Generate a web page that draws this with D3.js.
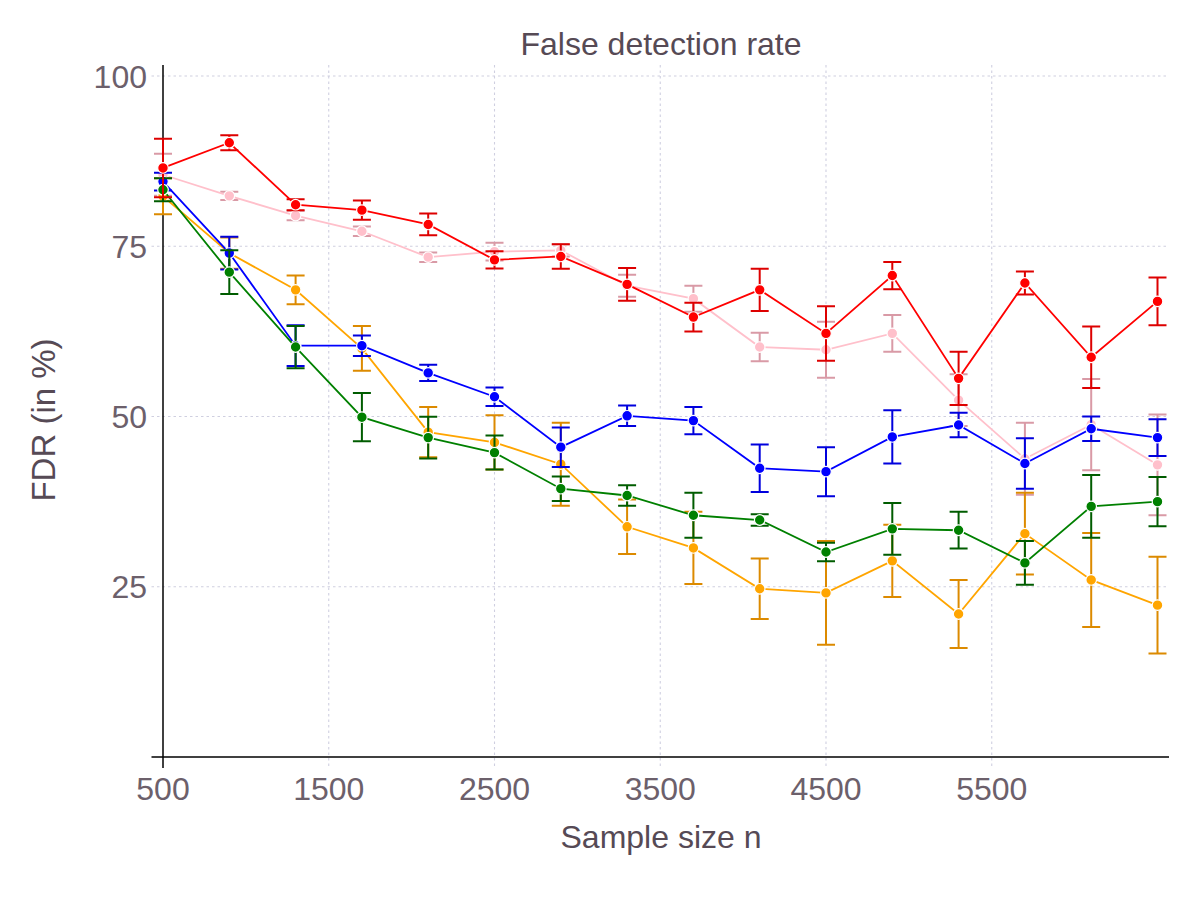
<!DOCTYPE html>
<html>
<head>
<meta charset="utf-8">
<script src="https://cdn.jsdelivr.net/npm/d3@7"></script>
<style>
  body { margin: 0; background: #fff; }
  text { font-family: "Liberation Sans", Arial, Helvetica, sans-serif; }
</style>
</head>
<body>
<div id="chart"></div>
<script>
// sample sizes on the x axis
const sampleSizes = [500, 900, 1300, 1700, 2100, 2500, 2900, 3300, 3700, 4100, 4500, 4900, 5300, 5700, 6100, 6500];

// FDR means and error half-widths (in %)
const redMean  = [86.5, 90.2, 81.1, 80.3, 78.2, 73.0, 73.5, 69.4, 64.6, 68.6, 62.2, 70.7, 55.6, 69.6, 58.7, 66.9];
const redErr   = [4.3, 1.1, 0.8, 1.4, 1.6, 1.25, 1.8, 2.4, 2.1, 3.1, 4.0, 2.0, 3.9, 1.7, 4.5, 3.5];
const pinkMean = [85.5, 82.4, 79.5, 77.2, 73.4, 74.2, 74.4, 69.2, 67.3, 60.2, 59.8, 62.2, 52.4, 43.8, 48.8, 42.9];
const pinkErr  = [3.1, 0.6, 0.7, 0.7, 0.7, 1.3, 0.9, 1.6, 1.9, 2.1, 4.1, 2.7, 3.8, 5.3, 6.7, 7.4];
const blueMean = [84.5, 74.0, 60.4, 60.4, 56.4, 52.9, 45.5, 50.1, 49.4, 42.4, 41.9, 47.0, 48.75, 43.1, 48.2, 46.9];
const blueErr  = [1.3, 2.4, 3.0, 1.5, 1.2, 1.35, 2.9, 1.5, 2.0, 3.5, 3.6, 3.9, 1.8, 3.7, 1.8, 2.7];
const greenMean = [83.3, 71.2, 60.2, 49.9, 46.9, 44.7, 39.4, 38.4, 35.5, 34.8, 30.1, 33.5, 33.3, 28.5, 36.8, 37.5];
const greenErr  = [1.7, 3.2, 3.1, 3.55, 3.05, 2.5, 1.8, 1.5, 3.3, 0.85, 1.35, 3.8, 2.7, 3.2, 4.6, 3.6];
const orangeMean = [82.35, 74.0, 68.6, 60.0, 47.7, 46.2, 43.0, 33.8, 30.7, 24.7, 24.1, 28.8, 21.0, 32.8, 26.0, 22.3];
const orangeErr  = [2.65, 2.3, 2.1, 3.3, 3.7, 4.0, 6.1, 4.0, 5.3, 4.45, 7.6, 5.3, 5.0, 6.0, 6.9, 7.1];

const xTicks = [500, 1500, 2500, 3500, 4500, 5500];
const yTicks = [25, 50, 75, 100];

// draw order: first is at the bottom
const SERIES = [
  {mean: pinkMean,   err: pinkErr,   color: "#ffc0cb", bar: "#d99aa6"},
  {mean: orangeMean, err: orangeErr, color: "#ffa500", bar: "#dc8a00"},
  {mean: blueMean,   err: blueErr,   color: "#0000ff", bar: "#0000dd"},
  {mean: greenMean,  err: greenErr,  color: "#008000", bar: "#005c00"},
  {mean: redMean,    err: redErr,    color: "#ff0000", bar: "#dd0000"}
];

const W = 1200, H = 900;
const X0 = 163, X1 = 1169, Y0 = 757, Y100 = 76;
const GRID_TOP = 65, GRID_BOTTOM = 768, GRID_LEFT = 151.5;

const svg = d3.select("#chart").append("svg").attr("width", W).attr("height", H);

const x = d3.scaleLinear().domain([500, 500 + (X1 - X0) / 0.16575]).range([X0, X1]);
const y = d3.scaleLinear().domain([0, 100]).range([Y0, Y100]);

// grid
const grid = svg.append("g").attr("stroke", "#cfcfe0").attr("stroke-width", 1.1).attr("stroke-dasharray", "2.5,3");
grid.selectAll("line.gx").data(xTicks.slice(1)).join("line")
  .attr("x1", d => x(d)).attr("x2", d => x(d)).attr("y1", GRID_TOP).attr("y2", GRID_BOTTOM);
grid.selectAll("line.gy").data(yTicks).join("line")
  .attr("x1", GRID_LEFT).attr("x2", X1).attr("y1", d => y(d)).attr("y2", d => y(d));

// axes lines
svg.append("line").attr("x1", X0).attr("x2", X0).attr("y1", GRID_TOP).attr("y2", GRID_BOTTOM)
  .attr("stroke", "#000").attr("stroke-width", 1.5);
svg.append("line").attr("x1", GRID_LEFT).attr("x2", X1).attr("y1", Y0).attr("y2", Y0)
  .attr("stroke", "#000").attr("stroke-width", 1.5);

// tick labels
svg.append("g").selectAll("text").data(xTicks).join("text")
  .attr("x", d => x(d)).attr("y", 800)
  .attr("text-anchor", "middle").attr("font-size", 32).attr("fill", "#6c606b")
  .text(d => d);
svg.append("g").selectAll("text").data(yTicks).join("text")
  .attr("x", 147).attr("y", d => y(d)).attr("dy", "0.36em")
  .attr("text-anchor", "end").attr("font-size", 32).attr("fill", "#6c606b")
  .text(d => d);

// titles
svg.append("text").attr("x", 661).attr("y", 55).attr("text-anchor", "middle")
  .attr("font-size", 32).attr("fill", "#564a55").text("False detection rate");
svg.append("text").attr("x", 661).attr("y", 848).attr("text-anchor", "middle")
  .attr("font-size", 32).attr("fill", "#564a55").text("Sample size n");
svg.append("text").attr("transform", "translate(55,420) rotate(-90)").attr("text-anchor", "middle")
  .attr("font-size", 33).attr("fill", "#564a55").text("FDR (in %)");

const line = d3.line().x(d => x(d.n)).y(d => y(d.v));
const CAP = 9;

SERIES.forEach(s => {
  const pts = sampleSizes.map((n, i) => ({n, v: s.mean[i], e: s.err[i]}));
  const g = svg.append("g");

  // error bars
  const eb = g.append("g").attr("stroke", s.bar).attr("stroke-width", 2).attr("fill", "none");
  eb.selectAll("path").data(pts).join("path")
    .attr("d", d => {
      const cx = x(d.n), top = y(d.v + d.e), bot = y(d.v - d.e);
      return `M${cx - CAP},${top}H${cx + CAP}M${cx},${top}V${bot}M${cx - CAP},${bot}H${cx + CAP}`;
    });

  // line
  g.append("path").datum(pts).attr("d", line)
    .attr("fill", "none").attr("stroke", s.color).attr("stroke-width", 1.8);

  // points
  g.selectAll("circle").data(pts).join("circle")
    .attr("cx", d => x(d.n)).attr("cy", d => y(d.v)).attr("r", 5.3)
    .attr("fill", s.color).attr("stroke", "#fff").attr("stroke-width", 1.2);
});
</script>
</body>
</html>
